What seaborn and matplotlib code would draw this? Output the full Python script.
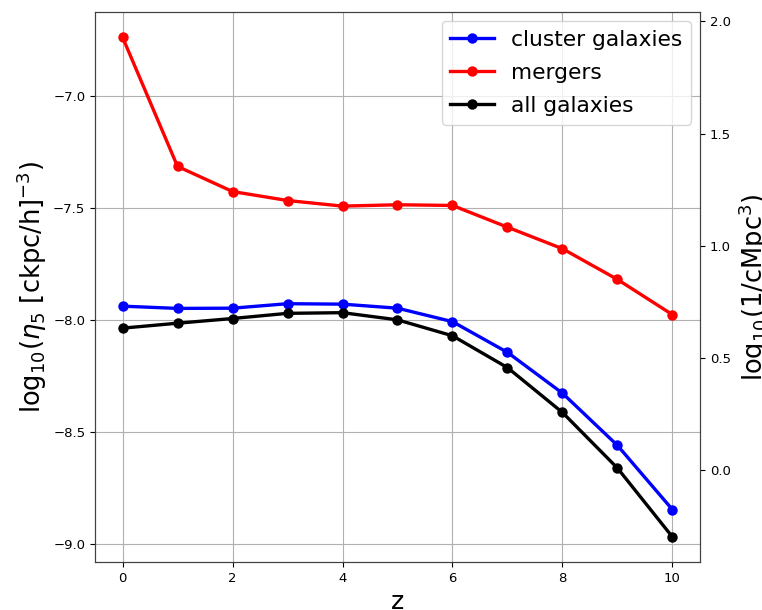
import numpy as np
import pandas as pd
import matplotlib
matplotlib.use("Agg")
import matplotlib.pyplot as plt
import seaborn as sns

# redshift snapshots
z = [0, 1, 2, 3, 4, 5, 6, 7, 8, 9, 10]

# log10 number density, eta_5 in (ckpc/h)^-3
cluster_galaxies = [-7.939, -7.949, -7.948, -7.928, -7.930, -7.948,
                    -8.008, -8.145, -8.327, -8.560, -8.846]
mergers = [-6.740, -7.316, -7.428, -7.468, -7.493, -7.487,
           -7.490, -7.587, -7.683, -7.820, -7.977]
all_galaxies = [-8.037, -8.015, -7.994, -7.971, -7.968, -8.000,
                -8.071, -8.213, -8.413, -8.661, -8.968]

series_names = ["cluster galaxies", "mergers", "all galaxies"]
series_colors = ["blue", "red", "black"]

# shift between the two density units (left axis -> right axis)
unit_offset = 8.67

df = pd.DataFrame({
    "z": z * 3,
    "density": cluster_galaxies + mergers + all_galaxies,
    "sample": np.repeat(series_names, len(z)),
})

fig = plt.figure(figsize=(7.62, 6.10), dpi=100)
ax = fig.add_subplot(111)
fig.subplots_adjust(left=0.1247, right=0.9186, bottom=0.0787, top=0.980)

sns.lineplot(data=df, x="z", y="density", hue="sample",
             hue_order=series_names,
             palette=dict(zip(series_names, series_colors)),
             marker="o", markersize=7.5, markeredgewidth=0,
             linewidth=2.4, ax=ax)

ax.grid(True, color="#b0b0b0", linewidth=0.8)
ax.set_xticks([0, 2, 4, 6, 8, 10])
ax.set_yticks([-9.0, -8.5, -8.0, -7.5, -7.0])
ax.tick_params(labelsize=9.5)
ax.set_xlabel("z", fontsize=18)
ax.set_ylabel(r"log$_{10}$($\eta_5$ [ckpc/h]$^{-3}$)", fontsize=18.5,
              labelpad=3)

leg = ax.legend(loc="upper right", fontsize=15.7, framealpha=0.8,
                handlelength=2.0, labelspacing=0.6, borderaxespad=0.4)

ax2 = ax.twinx()
lo, hi = ax.get_ylim()
ax2.set_ylim(lo + unit_offset, hi + unit_offset)
ax2.set_yticks([0.0, 0.5, 1.0, 1.5, 2.0])
ax2.tick_params(labelsize=9.5)
ax2.set_ylabel(r"log$_{10}$(1/cMpc$^3$)", fontsize=18.5)

for a in (ax, ax2):
    for s in a.spines.values():
        s.set_color("0.25")

fig.savefig("out.png", dpi=100)
